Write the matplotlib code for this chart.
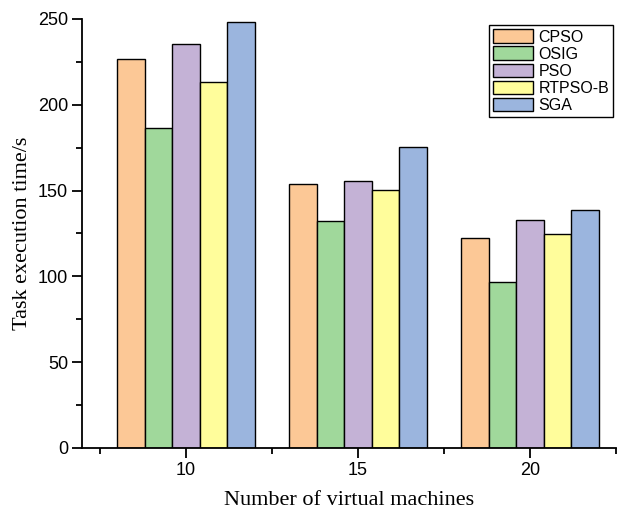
import numpy as np
import matplotlib
matplotlib.use('Agg')
import matplotlib.pyplot as plt
from matplotlib.ticker import MultipleLocator

# Czas wykonania zadań dla różnej liczby maszyn wirtualnych
maszyny = ['10', '15', '20']
algorytmy = ['CPSO', 'OSIG', 'PSO', 'RTPSO-B', 'SGA']
czasy = {
    'CPSO':    [226.5, 154.0, 122.6],
    'OSIG':    [186.7, 132.1, 96.5],
    'PSO':     [235.6, 155.4, 132.7],
    'RTPSO-B': [213.1, 150.3, 124.9],
    'SGA':     [248.4, 175.2, 138.9],
}
kolory = ['#FCC896', '#A0D89B', '#C4B2D6', '#FFFD9B', '#9BB5DE']

plt.rcParams['font.family'] = ['Liberation Sans', 'DejaVu Sans']

fig = plt.figure(figsize=(6.18, 5.16), dpi=100)
ax = fig.add_axes([0.1327, 0.1318, 0.8641, 0.8314])

x = np.arange(len(maszyny))
szer = 0.16
for i, alg in enumerate(algorytmy):
    przes = (i - 2) * szer
    ax.bar(x + przes, czasy[alg], width=szer, color=kolory[i],
           edgecolor='black', linewidth=1.0, label=alg, zorder=2)

ax.set_xlim(-0.605, 2.5)
ax.set_ylim(0, 250)
ax.set_xticks(x)
ax.set_xticklabels(maszyny)
ax.xaxis.set_minor_locator(MultipleLocator(1.0, offset=0.5))
ax.yaxis.set_major_locator(MultipleLocator(50))
ax.yaxis.set_minor_locator(MultipleLocator(25))

for s in ['top', 'right']:
    ax.spines[s].set_visible(False)
for s in ['left', 'bottom']:
    ax.spines[s].set_linewidth(1.3)

ax.tick_params(which='major', direction='out', length=7, width=1.3,
               labelsize=13, pad=3)
ax.tick_params(which='minor', direction='out', length=4, width=1.3)
ax.tick_params(axis='x', which='major', pad=3)

ax.set_xlabel('Number of virtual machines', family='Liberation Serif',
              fontsize=16, labelpad=9)
ax.set_ylabel('Task execution time/s', family='Liberation Serif',
              fontsize=16, labelpad=4)

leg = ax.legend(loc='upper right', bbox_to_anchor=(0.995, 0.985),
                borderaxespad=0, fancybox=False, edgecolor='black',
                fontsize=11.5, handlelength=2.5, handleheight=0.9,
                labelspacing=0.12, handletextpad=0.35, borderpad=0.25,
                framealpha=1)
leg.get_frame().set_linewidth(1.0)

fig.savefig('out.png', dpi=100)
